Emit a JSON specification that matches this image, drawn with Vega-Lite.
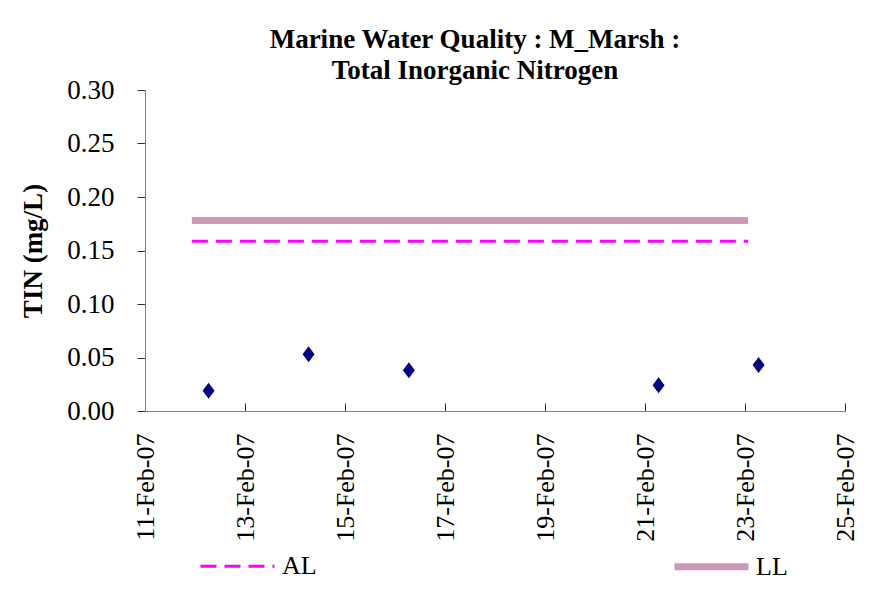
{
  "$schema": "https://vega.github.io/schema/vega-lite/v6.json",
  "width": 700,
  "height": 321,
  "padding": {"left": 19, "top": 26, "right": 20, "bottom": 0},
  "background": "white",
  "title": {
    "text": ["Marine Water Quality : M_Marsh :", "Total Inorganic Nitrogen"],
    "font": "Liberation Serif, Times New Roman, serif",
    "fontSize": 27,
    "fontWeight": "bold",
    "color": "black",
    "lineHeight": 31,
    "anchor": "middle",
    "frame": "group",
    "dx": -20,
    "offset": -9
  },
  "config": {
    "view": {"stroke": null},
    "font": "Liberation Serif, Times New Roman, serif",
    "axis": {
      "labelFont": "Liberation Serif, Times New Roman, serif",
      "labelFontSize": 26,
      "labelColor": "black",
      "titleFont": "Liberation Serif, Times New Roman, serif",
      "titleFontSize": 27,
      "titleFontWeight": "bold",
      "titleColor": "black",
      "domainColor": "#808080",
      "tickColor": "#333333",
      "grid": false
    },
    "legend": {
      "labelFont": "Liberation Serif, Times New Roman, serif",
      "labelFontSize": 26,
      "labelColor": "black"
    }
  },
  "layer": [
    {
      "data": {
        "values": [
          {"series": "AL", "start": "2007-02-11T22:30:00", "end": "2007-02-23T01:30:00", "value": 0.1586},
          {"series": "LL", "start": "2007-02-11T22:30:00", "end": "2007-02-23T01:30:00", "value": 0.178}
        ]
      },
      "mark": {"type": "rule"},
      "encoding": {
        "x": {
          "field": "start",
          "type": "temporal",
          "scale": {"domain": [{"year": 2007, "month": 2, "date": 11}, {"year": 2007, "month": 2, "date": 25}]},
          "axis": {
            "title": null,
            "format": "%d-%b-%y",
            "values": [
              {"year": 2007, "month": 2, "date": 11},
              {"year": 2007, "month": 2, "date": 13},
              {"year": 2007, "month": 2, "date": 15},
              {"year": 2007, "month": 2, "date": 17},
              {"year": 2007, "month": 2, "date": 19},
              {"year": 2007, "month": 2, "date": 21},
              {"year": 2007, "month": 2, "date": 23},
              {"year": 2007, "month": 2, "date": 25}
            ],
            "labelFont": "Liberation Serif, Times New Roman, serif",
            "labelAngle": -90,
            "labelAlign": "right",
            "labelBaseline": "middle",
            "tickSize": -8,
            "labelPadding": 30,
            "labelOverlap": false,
            "labelFlush": false
          }
        },
        "x2": {"field": "end"},
        "y": {
          "field": "value",
          "type": "quantitative",
          "scale": {"domain": [0, 0.3]},
          "axis": {
            "title": "TIN (mg/L)",
            "values": [0, 0.05, 0.1, 0.15, 0.2, 0.25, 0.3],
            "format": ".2f",
            "labelFont": "Liberation Serif, Times New Roman, serif",
            "labelFontSize": 27,
            "tickSize": 8,
            "labelPadding": 23,
            "titlePadding": 19,
            "labelFlush": false
          }
        },
        "color": {
          "field": "series",
          "type": "nominal",
          "scale": {"domain": ["AL", "LL"], "range": ["#FF00FF", "#CC99B4"]},
          "legend": {
            "title": null,
            "orient": "none",
            "direction": "horizontal",
            "columns": 2,
            "columnPadding": 343,
            "legendX": 52,
            "legendY": 436,
            "symbolType": "stroke",
            "symbolSize": 5476,
            "labelOffset": 4,
            "labelFont": "Liberation Serif, Times New Roman, serif"
          }
        },
        "strokeDash": {
          "field": "series",
          "type": "nominal",
          "scale": {"domain": ["AL", "LL"], "range": [[16, 8], [1, 0]]},
          "legend": {
            "title": null,
            "orient": "none",
            "direction": "horizontal",
            "columns": 2,
            "columnPadding": 343,
            "legendX": 52,
            "legendY": 436,
            "symbolType": "stroke",
            "symbolSize": 5476,
            "labelOffset": 4,
            "labelFont": "Liberation Serif, Times New Roman, serif"
          }
        },
        "strokeWidth": {
          "field": "series",
          "type": "nominal",
          "scale": {"domain": ["AL", "LL"], "range": [3, 7]},
          "legend": {
            "title": null,
            "orient": "none",
            "direction": "horizontal",
            "columns": 2,
            "columnPadding": 343,
            "legendX": 52,
            "legendY": 436,
            "symbolType": "stroke",
            "symbolSize": 5476,
            "labelOffset": 4,
            "labelFont": "Liberation Serif, Times New Roman, serif"
          }
        }
      }
    },
    {
      "data": {
        "values": [
          {"date": "2007-02-12T06:30:00", "tin": 0.019},
          {"date": "2007-02-14T06:30:00", "tin": 0.053},
          {"date": "2007-02-16T06:40:00", "tin": 0.038},
          {"date": "2007-02-21T06:30:00", "tin": 0.024},
          {"date": "2007-02-23T06:30:00", "tin": 0.043}
        ]
      },
      "mark": {
        "type": "point",
        "shape": "M0,-1L0.75,0L0,1L-0.75,0Z",
        "filled": true,
        "color": "#000080",
        "opacity": 1,
        "size": 256
      },
      "encoding": {
        "x": {"field": "date", "type": "temporal"},
        "y": {"field": "tin", "type": "quantitative"}
      }
    }
  ]
}
